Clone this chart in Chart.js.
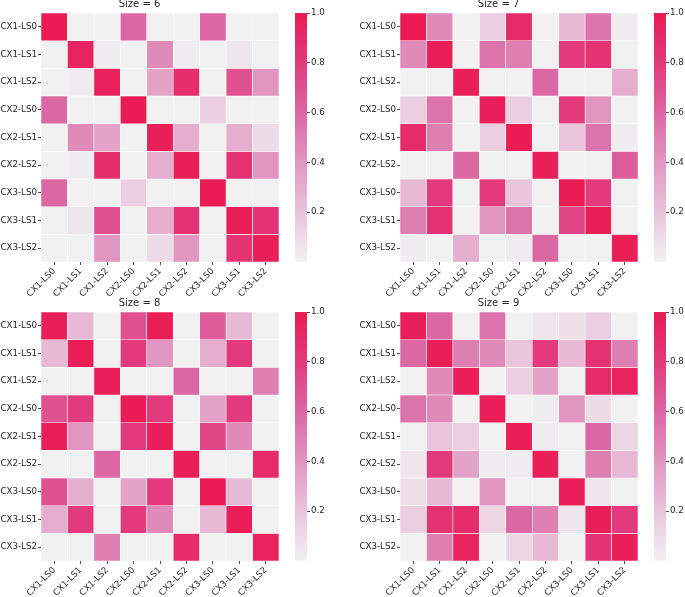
<!DOCTYPE html>
<html>
<head>
<meta charset="utf-8">
<script src="https://cdn.jsdelivr.net/npm/chart.js@4.4.1/dist/chart.umd.min.js"></script>
<style>
  html, body { margin: 0; padding: 0; background: #fff; }
  #page { position: relative; width: 685px; height: 597px; overflow: hidden; }
  .box { position: absolute; }
  canvas { display: block; }
</style>
</head>
<body>
<div id="page"></div>
<script>
/* ---------- data ---------- */
const rowLabels = ["CX1-LS0", "CX1-LS1", "CX1-LS2", "CX2-LS0", "CX2-LS1", "CX2-LS2", "CX3-LS0", "CX3-LS1", "CX3-LS2"];
const colLabels = ["CX1-LS0", "CX1-LS1", "CX1-LS2", "CX2-LS0", "CX2-LS1", "CX2-LS2", "CX3-LS0", "CX3-LS1", "CX3-LS2"];
const titles = ["Size = 6", "Size = 7", "Size = 8", "Size = 9"];
const colorbarTicks = [0.2, 0.4, 0.6, 0.8, 1.0];

const size6 = [
  [1.00, 0.00, 0.00, 0.60, 0.00, 0.00, 0.60, 0.00, 0.00],
  [0.00, 0.95, 0.02, 0.00, 0.45, 0.02, 0.00, 0.05, 0.00],
  [0.00, 0.02, 0.97, 0.00, 0.35, 0.88, 0.00, 0.70, 0.40],
  [0.60, 0.00, 0.00, 1.00, 0.00, 0.00, 0.15, 0.00, 0.00],
  [0.00, 0.45, 0.35, 0.00, 0.98, 0.30, 0.00, 0.30, 0.10],
  [0.00, 0.02, 0.88, 0.00, 0.30, 0.98, 0.00, 0.85, 0.40],
  [0.60, 0.00, 0.00, 0.15, 0.00, 0.00, 1.00, 0.00, 0.00],
  [0.00, 0.05, 0.70, 0.00, 0.30, 0.85, 0.00, 0.98, 0.85],
  [0.00, 0.00, 0.40, 0.00, 0.10, 0.40, 0.00, 0.85, 0.98]
];
const size7 = [
  [1.00, 0.45, 0.00, 0.15, 0.90, 0.00, 0.25, 0.55, 0.02],
  [0.45, 0.98, 0.00, 0.55, 0.50, 0.00, 0.80, 0.85, 0.00],
  [0.00, 0.00, 0.98, 0.00, 0.00, 0.60, 0.00, 0.00, 0.30],
  [0.15, 0.55, 0.00, 0.98, 0.15, 0.00, 0.80, 0.40, 0.00],
  [0.90, 0.50, 0.00, 0.15, 1.00, 0.00, 0.20, 0.55, 0.02],
  [0.00, 0.00, 0.60, 0.00, 0.00, 0.98, 0.00, 0.00, 0.65],
  [0.25, 0.80, 0.00, 0.80, 0.20, 0.00, 1.00, 0.80, 0.00],
  [0.50, 0.85, 0.00, 0.40, 0.55, 0.00, 0.75, 0.98, 0.00],
  [0.02, 0.00, 0.30, 0.00, 0.02, 0.60, 0.00, 0.00, 0.98]
];
const size8 = [
  [0.98, 0.25, 0.00, 0.70, 0.98, 0.00, 0.65, 0.25, 0.00],
  [0.25, 0.98, 0.00, 0.80, 0.40, 0.00, 0.30, 0.80, 0.00],
  [0.00, 0.00, 0.98, 0.00, 0.00, 0.60, 0.00, 0.00, 0.50],
  [0.70, 0.80, 0.00, 1.00, 0.80, 0.00, 0.35, 0.80, 0.00],
  [0.98, 0.40, 0.00, 0.80, 0.98, 0.00, 0.75, 0.45, 0.00],
  [0.00, 0.00, 0.60, 0.00, 0.00, 0.98, 0.00, 0.00, 0.90],
  [0.70, 0.30, 0.00, 0.35, 0.80, 0.00, 1.00, 0.25, 0.00],
  [0.30, 0.80, 0.00, 0.80, 0.45, 0.00, 0.25, 0.98, 0.00],
  [0.00, 0.00, 0.50, 0.00, 0.00, 0.90, 0.00, 0.00, 0.95]
];
const size9 = [
  [0.98, 0.60, 0.00, 0.55, 0.00, 0.05, 0.08, 0.15, 0.00],
  [0.60, 0.98, 0.50, 0.45, 0.20, 0.80, 0.25, 0.85, 0.50],
  [0.00, 0.45, 0.98, 0.00, 0.15, 0.35, 0.00, 0.90, 0.95],
  [0.55, 0.45, 0.00, 0.98, 0.00, 0.02, 0.40, 0.10, 0.00],
  [0.00, 0.20, 0.15, 0.00, 0.98, 0.02, 0.00, 0.60, 0.12],
  [0.05, 0.80, 0.35, 0.02, 0.02, 0.98, 0.00, 0.50, 0.25],
  [0.08, 0.25, 0.00, 0.40, 0.00, 0.00, 0.98, 0.05, 0.00],
  [0.15, 0.85, 0.88, 0.12, 0.60, 0.50, 0.05, 0.98, 0.80],
  [0.00, 0.50, 0.95, 0.00, 0.12, 0.25, 0.00, 0.85, 0.98]
];

/* ---------- look ---------- */
const INK = "#262626";
const FONT = "'DejaVu Sans', sans-serif";
const LABEL_SIZE = 8.7;
// grey -> crimson colour map
const cmap = [
  [0.0, [241, 241, 242]],
  [0.2, [233, 196, 219]],
  [0.4, [225, 150, 193]],
  [0.6, [219, 103, 163]],
  [0.8, [226, 58, 124]],
  [1.0, [235, 27, 85]]
];

// plot areas in page pixels
const panels = [
  { title: titles[0], values: size6, left: 41,  right: 279, top: 13,  bottom: 262, cb: 295 },
  { title: titles[1], values: size7, left: 400, right: 638, top: 13,  bottom: 262, cb: 654 },
  { title: titles[2], values: size8, left: 41,  right: 279, top: 312, bottom: 561, cb: 295 },
  { title: titles[3], values: size9, left: 400, right: 638, top: 312, bottom: 561, cb: 654 }
];

const TITLE_H = 15;   // 10px * 1.2 + 3 padding
const Y_W = 41, X_H = 40, PAD_R = 4;
const CB_W = 12;

const page = document.getElementById("page");

function colorFor(v) {
  for (let i = 1; i < cmap.length; i++) {
    const [t1, c1] = cmap[i];
    const [t0, c0] = cmap[i - 1];
    if (v <= t1) {
      const f = (v - t0) / (t1 - t0);
      const c = c0.map((a, k) => Math.round(a + (c1[k] - a) * f));
      return `rgb(${c.join(",")})`;
    }
  }
  return `rgb(${cmap[cmap.length - 1][1].join(",")})`;
}

function addCanvas(left, top, w, h) {
  const div = document.createElement("div");
  div.className = "box";
  div.style.left = left + "px";
  div.style.top = top + "px";
  div.style.width = w + "px";
  div.style.height = h + "px";
  const c = document.createElement("canvas");
  c.width = w; c.height = h;
  c.style.width = w + "px"; c.style.height = h + "px";
  div.appendChild(c);
  page.appendChild(div);
  return c;
}

function drawHeatmap(p) {
  const cl = p.left - Y_W, ct = p.top - TITLE_H;
  const w = p.right - cl + PAD_R, h = p.bottom - ct + X_H;
  const canvas = addCanvas(cl, ct, w, h);
  new Chart(canvas, {
    type: "bar",
    data: {
      labels: colLabels,
      datasets: rowLabels.map((row, r) => ({
        label: row,
        data: colLabels.map(() => [r - 0.5, r + 0.5]),
        backgroundColor: p.values[r].map(colorFor),
        borderColor: "#ffffff",
        borderWidth: 0.6,
        borderSkipped: false,
        barPercentage: 1,
        categoryPercentage: 1,
        grouped: false
      }))
    },
    options: {
      responsive: false,
      animation: false,
      layout: { padding: { right: PAD_R } },
      plugins: {
        legend: { display: false },
        tooltip: { enabled: false },
        title: {
          display: true, text: p.title, color: INK,
          font: { family: FONT, size: 10, weight: "normal" },
          padding: { top: 0, bottom: 3 }
        }
      },
      scales: {
        x: {
          type: "category", offset: true,
          grid: { display: true, offset: false, drawOnChartArea: false, tickLength: 3, tickColor: INK, tickWidth: 0.8 },
          border: { display: false },
          ticks: { color: INK, font: { family: FONT, size: LABEL_SIZE }, minRotation: 45, maxRotation: 45, autoSkip: false, padding: 1 },
          afterFit: (s) => { s.height = X_H; }
        },
        y: {
          type: "linear", min: -0.5, max: 8.5, reverse: true,
          grid: { display: true, drawOnChartArea: false, tickLength: 3, tickColor: INK, tickWidth: 0.8 },
          border: { display: false },
          afterBuildTicks: (s) => { s.ticks = rowLabels.map((_, i) => ({ value: i })); },
          ticks: { color: INK, font: { family: FONT, size: LABEL_SIZE }, autoSkip: false, padding: 1, callback: (v) => rowLabels[v] },
          afterFit: (s) => { s.width = Y_W; }
        }
      }
    }
  });
}

function gradient(chart) {
  const y = chart.scales.y;
  const y0 = y ? y.getPixelForValue(0) : NaN;
  const y1 = y ? y.getPixelForValue(1) : NaN;
  if (!isFinite(y0) || !isFinite(y1) || y0 === y1) return colorFor(0.5);
  const g = chart.ctx.createLinearGradient(0, y0, 0, y1);
  cmap.forEach(([t, c]) => g.addColorStop(t, `rgb(${c.join(",")})`));
  return g;
}

function drawColorbar(p) {
  const padTop = 13, padBot = 6;
  const ct = p.top - padTop;
  const h = p.bottom - ct + padBot;
  const w = Math.min(50, 685 - p.cb);
  const canvas = addCanvas(p.cb, ct, w, h);
  new Chart(canvas, {
    type: "bar",
    data: {
      labels: [""],
      datasets: [{
        data: [[0, 1]],
        backgroundColor: (ctx) => gradient(ctx.chart),
        borderWidth: 0,
        barPercentage: 1,
        categoryPercentage: 1
      }]
    },
    options: {
      responsive: false,
      animation: false,
      layout: { padding: { top: padTop, bottom: padBot } },
      plugins: { legend: { display: false }, tooltip: { enabled: false } },
      scales: {
        x: { display: false },
        y: {
          position: "right", min: 0, max: 1,
          grid: { display: true, drawOnChartArea: false, tickLength: 3, tickColor: INK, tickWidth: 0.8 },
          border: { display: false },
          afterBuildTicks: (s) => { s.ticks = colorbarTicks.map((v) => ({ value: v })); },
          ticks: { color: INK, font: { family: FONT, size: LABEL_SIZE }, padding: 1, callback: (v) => Number(v).toFixed(1) },
          afterFit: (s) => { s.width = w - CB_W; }
        }
      }
    }
  });
}

panels.forEach((p) => { drawHeatmap(p); drawColorbar(p); });
</script>
</body>
</html>
